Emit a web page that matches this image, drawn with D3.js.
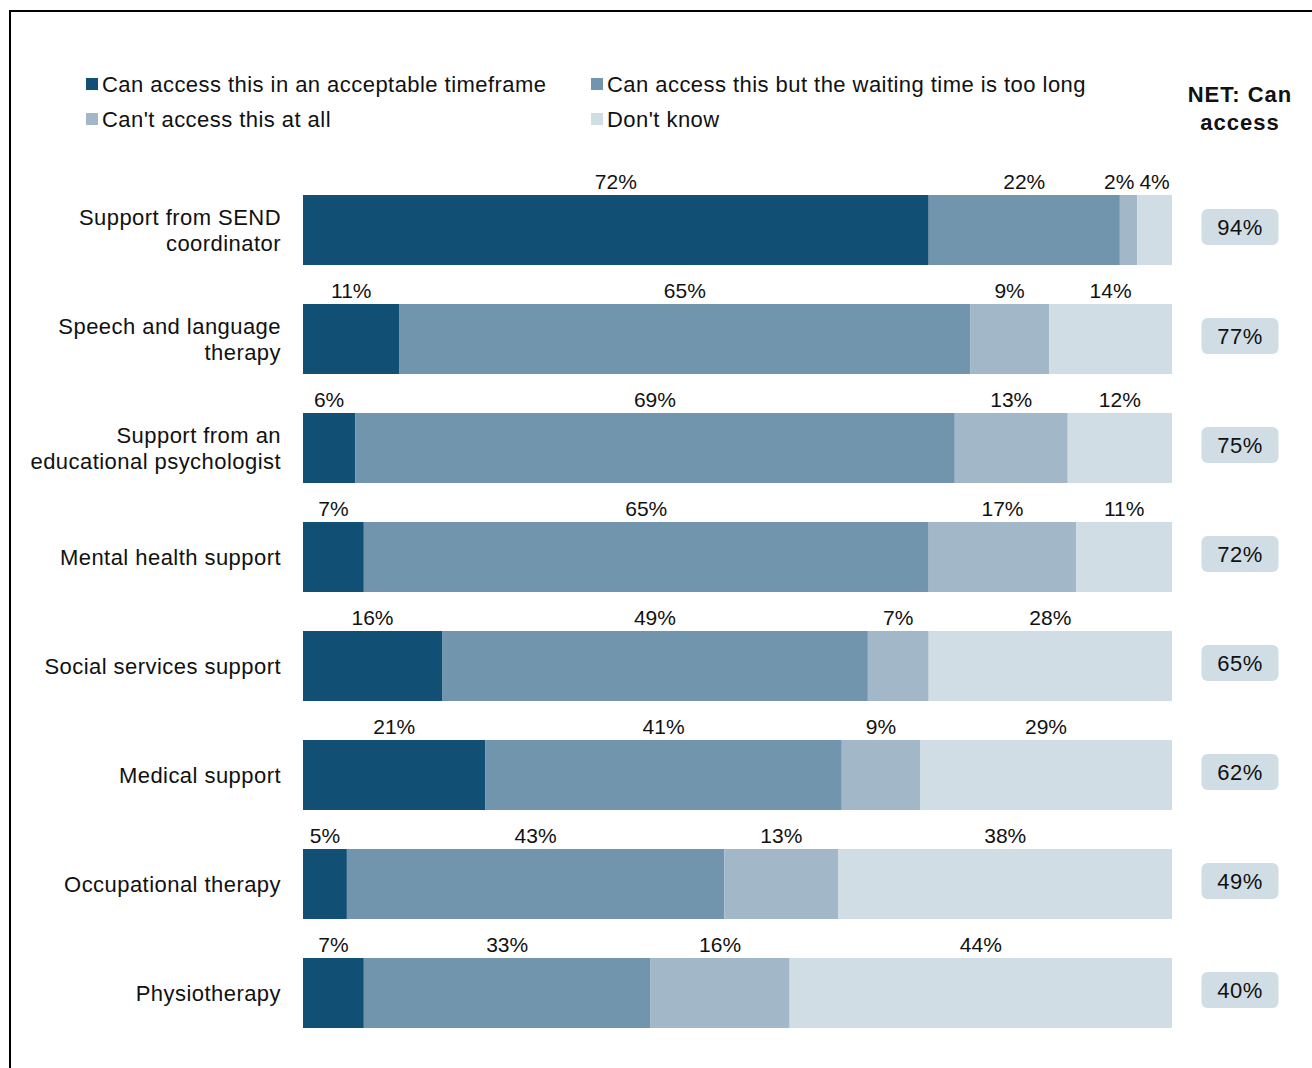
<!DOCTYPE html>
<html>
<head>
<meta charset="utf-8">
<script src="https://cdn.jsdelivr.net/npm/d3@7"></script>
<style>
  html, body { margin: 0; padding: 0; background: #fff; }
  svg { display: block; font-family: "Liberation Sans", Arial, sans-serif; }
</style>
</head>
<body>
<svg id="chart" width="1312" height="1068"></svg>
<script>
// Services asked about (each label split into display lines)
const categories = [
  ["Support from SEND", "coordinator"],
  ["Speech and language", "therapy"],
  ["Support from an", "educational psychologist"],
  ["Mental health support"],
  ["Social services support"],
  ["Medical support"],
  ["Occupational therapy"],
  ["Physiotherapy"]
];

const seriesNames = [
  "Can access this in an acceptable timeframe",
  "Can access this but the waiting time is too long",
  "Can't access this at all",
  "Don't know"
];

// Percentages per series, one value per service
const acceptable  = [72, 11, 6, 7, 16, 21, 5, 7];
const tooLong     = [22, 65, 69, 65, 49, 41, 43, 33];
const cantAccess  = [2, 9, 13, 17, 7, 9, 13, 16];
const dontKnow    = [4, 14, 12, 11, 28, 29, 38, 44];

// NET: Can access
const netAccess   = [94, 77, 75, 72, 65, 62, 49, 40];

const colors = ["#124f74", "#7195ad", "#a2b8c8", "#d0dde5"];

const rows = categories.map((c, i) => ({
  key: i,
  s0: acceptable[i], s1: tooLong[i], s2: cantAccess[i], s3: dontKnow[i]
}));
const keys = ["s0", "s1", "s2", "s3"];

const svg = d3.select("#chart");

// Frame lines (top and left)
svg.append("path")
  .attr("d", "M10,1068 V11 H1312")
  .attr("fill", "none")
  .attr("stroke", "#000")
  .attr("stroke-width", 2);

const x = d3.scaleLinear().domain([0, 1]).range([303, 1172]);
const y = d3.scaleBand()
  .domain(d3.range(categories.length))
  .range([175.5, 1047.5])
  .paddingInner(0.358)
  .paddingOuter(0.179);

// 100% stacked layout
const stack = d3.stack().keys(keys).offset(d3.stackOffsetExpand);
const layers = stack(rows);

const g = svg.append("g");
layers.forEach((layer, li) => {
  g.append("g")
    .attr("fill", colors[li])
    .selectAll("rect")
    .data(layer)
    .join("rect")
    .attr("x", d => x(d[0]))
    .attr("y", (d, i) => y(i))
    .attr("width", d => x(d[1]) - x(d[0]))
    .attr("height", y.bandwidth());
});

// Value labels above each segment, nudged apart where they would collide
const labelFont = 21;
const measure = svg.append("text").attr("font-size", labelFont).attr("visibility", "hidden");
function textWidth(s) { measure.text(s); return measure.node().getComputedTextLength(); }

rows.forEach((row, i) => {
  const labels = layers.map((layer, li) => {
    const d = layer[i];
    const txt = row[keys[li]] + "%";
    return { txt, cx: (x(d[0]) + x(d[1])) / 2, w: textWidth(txt) };
  });
  // push overlapping labels leftwards, starting from the right
  for (let k = labels.length - 2; k >= 0; k--) {
    const next = labels[k + 1];
    const maxRight = next.cx - next.w / 2 - 5;
    if (labels[k].cx + labels[k].w / 2 > maxRight) {
      labels[k].cx = maxRight - labels[k].w / 2;
    }
  }
  svg.append("g").selectAll("text")
    .data(labels)
    .join("text")
    .attr("x", d => d.cx)
    .attr("y", y(i) - 6)
    .attr("text-anchor", "middle")
    .attr("font-size", labelFont)
    .attr("fill", "#111")
    .text(d => d.txt);
});

// Category labels
categories.forEach((lines, i) => {
  const cy = y(i) + y.bandwidth() / 2;
  const lh = 26;
  const first = cy + 8 - (lines.length - 1) * lh / 2;
  const t = svg.append("text")
    .attr("text-anchor", "end")
    .attr("font-size", 22)
    .attr("letter-spacing", 0.45)
    .attr("fill", "#111");
  lines.forEach((ln, k) => {
    t.append("tspan").attr("x", 281).attr("y", first + k * lh).text(ln);
  });
});

// Legend
const legendPos = [
  { x: 86, y: 84 }, { x: 591, y: 84 },
  { x: 86, y: 119 }, { x: 591, y: 119 }
];
const legend = svg.append("g").selectAll("g")
  .data(seriesNames)
  .join("g")
  .attr("transform", (d, i) => `translate(${legendPos[i].x},${legendPos[i].y})`);
legend.append("rect")
  .attr("x", 0).attr("y", -6).attr("width", 12).attr("height", 12)
  .attr("fill", (d, i) => colors[i]);
legend.append("text")
  .attr("x", 16).attr("y", 8)
  .attr("font-size", 22)
  .attr("letter-spacing", 0.45)
  .attr("fill", "#111")
  .text(d => d);

// NET column
const netX = 1240;
const head = svg.append("text")
  .attr("text-anchor", "middle")
  .attr("font-size", 22)
  .attr("letter-spacing", 1)
  .attr("font-weight", "bold")
  .attr("fill", "#111");
head.append("tspan").attr("x", netX).attr("y", 102).text("NET: Can");
head.append("tspan").attr("x", netX).attr("y", 130).text("access");

const net = svg.append("g").selectAll("g")
  .data(netAccess)
  .join("g")
  .attr("transform", (d, i) => `translate(${netX},${y(i) + y.bandwidth() / 2 - 3})`);
net.append("rect")
  .attr("x", -38.5).attr("y", -18)
  .attr("width", 77).attr("height", 36)
  .attr("rx", 6)
  .attr("fill", "#d0dde5");
net.append("text")
  .attr("text-anchor", "middle")
  .attr("y", 8)
  .attr("font-size", 22)
  .attr("letter-spacing", 0.5)
  .attr("fill", "#111")
  .text(d => d + "%");
</script>
</body>
</html>
